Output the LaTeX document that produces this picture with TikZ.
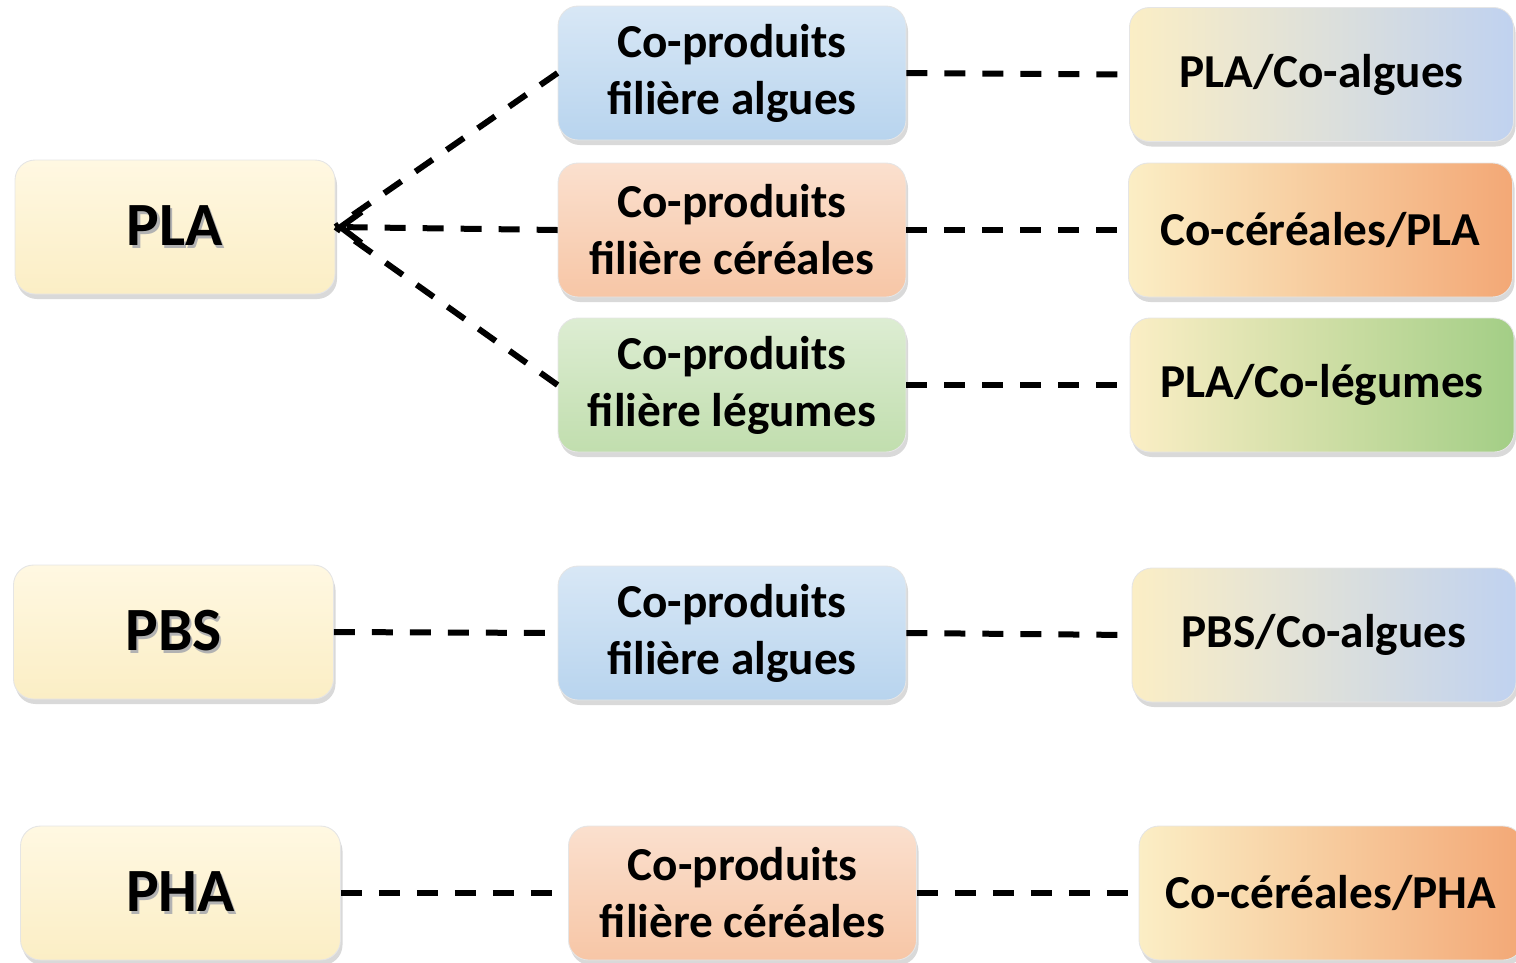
\documentclass[tikz,border=0pt]{standalone}
\usepackage{fontspec}
\setmainfont{Carlito}
\usetikzlibrary{shadows,arrows.meta}

\definecolor{cream}{RGB}{251,238,197}
\definecolor{creamtop}{RGB}{255,248,226}
\definecolor{algblue}{RGB}{184,212,238}
\definecolor{cerorange}{RGB}{247,198,166}
\definecolor{leggreen}{RGB}{193,222,174}
\definecolor{algblueend}{RGB}{192,210,240}
\definecolor{cerorangeend}{RGB}{243,168,118}
\definecolor{leggreenend}{RGB}{163,206,134}

\newcommand{\shadowed}[1]{\makebox[0pt][l]{\hspace{0.045cm}\raisebox{-0.045cm}{\color{black!30}#1}}#1}

\tikzset{
    box/.style={rounded corners=4mm, inner sep=0pt, align=center, draw=black!10, line width=0.5pt,
        minimum height=2.68cm, font=\bfseries\boxfontsize,
        drop shadow={opacity=0.3, shadow xshift=0.04cm, shadow yshift=-0.1cm}},
    polybox/.style={box, minimum width=6.4cm, top color=creamtop, bottom color=cream, font=\bfseries\polyfontsize},
    algbox/.style={box, minimum width=6.96cm, top color=algblue!55!white, bottom color=algblue},
    cerbox/.style={box, minimum width=6.96cm, top color=cerorange!55!white, bottom color=cerorange},
    legbox/.style={box, minimum width=6.96cm, top color=leggreen!55!white, bottom color=leggreen},
    algend/.style={box, minimum width=7.68cm, left color=cream, middle color=cream!92!algblueend, right color=algblueend},
    cerend/.style={box, minimum width=7.68cm, left color=cream, middle color=cream!90!cerorangeend, right color=cerorangeend},
    legend/.style={box, minimum width=7.68cm, left color=cream, middle color=cream!90!leggreenend, right color=leggreenend},
    conn/.style={line width=0.12cm, dash pattern=on 0.42cm off 0.34cm},
}

\begin{document}
\begin{tikzpicture}
    \providecommand{\boxfontsize}{\fontsize{26.9pt}{32.4pt}\selectfont}
    \providecommand{\polyfontsize}{\fontsize{35pt}{40pt}\selectfont}
    \useasboundingbox (0,0) rectangle (30.32,-19.24);

    % PLA
    \node[polybox] (pla) at (3.50,-4.54) {\shadowed{PLA}};
    \node[algbox] (plaalg) at (14.64,-1.46) {Co-produits\\filière algues};
    \node[cerbox] (placer) at (14.64,-4.60) {Co-produits\\filière céréales};
    \node[legbox] (plaleg) at (14.64,-7.70) {Co-produits\\filière légumes};
    \node[algend] (plaalgres) at (26.43,-1.49) {PLA/Co-algues};
    \node[cerend] (placerres) at (26.41,-4.60) {Co-céréales/PLA};
    \node[legend] (plalegres) at (26.44,-7.70) {PLA/Co-légumes};

    % PBS
    \node[polybox] (pbs) at (3.47,-12.64) {\shadowed{PBS}};
    \node[algbox] (pbsalg) at (14.64,-12.66) {Co-produits\\filière algues};
    \node[algend] (pbsalgres) at (26.48,-12.70) {PBS/Co-algues};

    % PHA
    \node[polybox] (pha) at (3.61,-17.86) {\shadowed{PHA}};
    \node[cerbox] (phacer) at (14.85,-17.86) {Co-produits\\filière céréales};
    \node[cerend] (phacerres) at (26.62,-17.86) {Co-céréales/PHA};

    \draw[conn,-{Straight Barb[length=0.42cm,width=0.62cm]}] (placer.west) -- (pla.east);
    \draw[conn] (plaalg.west) -- (pla.east);
    \draw[conn] (plaleg.west) -- (pla.east);
    \draw[conn] (plaalg.east) -- (plaalgres.west);
    \draw[conn] (placer.east) -- (placerres.west);
    \draw[conn] (plaleg.east) -- (plalegres.west);
    \draw[conn] (pbs.east) -- (pbsalg.west);
    \draw[conn] (pbsalg.east) -- (pbsalgres.west);
    \draw[conn] (pha.east) -- (phacer.west);
    \draw[conn] (phacer.east) -- (phacerres.west);
\end{tikzpicture}
\end{document}
